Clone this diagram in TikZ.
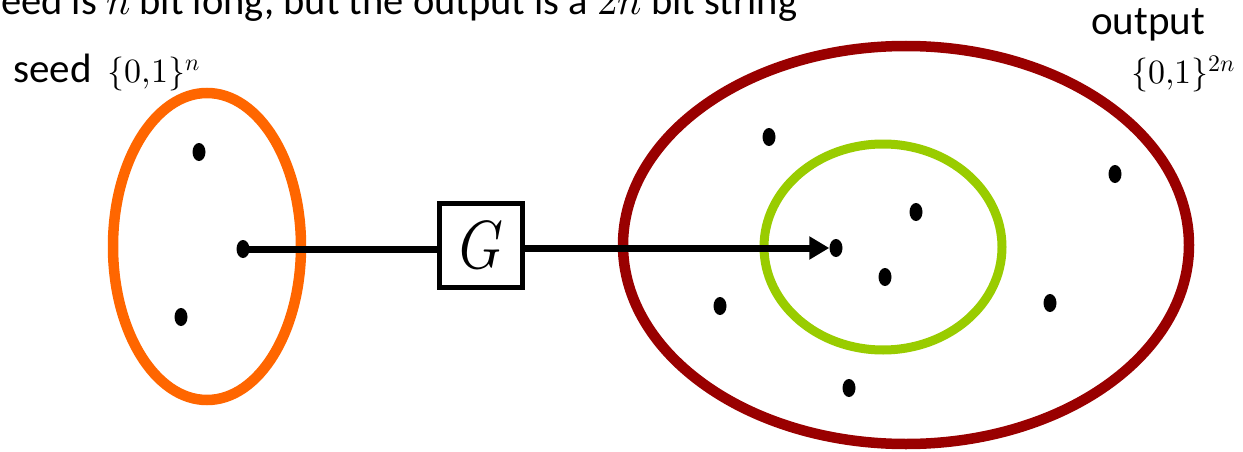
\documentclass[tikz,border=0pt]{standalone}
\usepackage{fontspec}
\usepackage{unicode-math}
\setmainfont{Carlito}
\setmathfont{Latin Modern Math}
\usetikzlibrary{arrows.meta,shapes.geometric}
\definecolor{seedorange}{RGB}{255,102,0}
\definecolor{outred}{RGB}{153,0,0}
\definecolor{imggreen}{RGB}{153,204,0}
% set notation in a slightly smaller size than the labels
\newcommand{\bitset}[1]{{\fontsize{34}{40}\selectfont$\{0{,}1\}^{#1}$}}
\tikzset{
  settext/.style={font=\fontsize{41}{49}\selectfont, inner sep=0pt},
  ring/.style={line width=10.5pt},
  pt/.style={fill=black, draw=none, ellipse, minimum width=13pt, minimum height=18pt, inner sep=0pt},
  genbox/.style={draw, line width=5pt, fill=white, minimum width=83pt, minimum height=84pt, inner sep=0pt},
  mapline/.style={line width=7pt},
  maparrow/.style={mapline, -{Triangle[length=20pt, width=22pt]}},
}
\begin{document}
\begin{tikzpicture}[x=1pt, y=-1pt]
\useasboundingbox (0,0) rectangle (1243,452);

% caption line across the top
\node[settext, font=\fontsize{40.5}{48}\selectfont, anchor=base west] (caption) at (1,15) {eed is $n$ bit long, but the output is a $2n$ bit string};

% the seed set
\draw[ring, seedorange] (207,246.5) ellipse [x radius=94, y radius=153.5];
\node[settext, anchor=base west] (seedlbl) at (13,83) {seed\hspace{16pt}\bitset{n}};

% the output set and the image of G inside it
\draw[ring, outred] (906,245) ellipse [x radius=283, y radius=199];
\draw[ring, imggreen, line width=9pt] (883,247) ellipse [x radius=119, y radius=103];
\node[settext, anchor=base west] (outlbl) at (1091,35) {output};
\node[settext, anchor=base west] (outset) at (1131,84) {\bitset{2n}};

% points
\node[pt] (s1) at (199,152) {};
\node[pt] (s2) at (181,317) {};
\node[pt] (s0) at (243,249) {};

\node[pt] (o1) at (769,137) {};
\node[pt] (o2) at (1115,174) {};
\node[pt] (o3) at (720,306) {};
\node[pt] (o4) at (1050,303) {};
\node[pt] (o5) at (849,388) {};

\node[pt] (g1) at (916,212) {};
\node[pt] (g2) at (885,277) {};
\node[pt] (t0) at (836,248) {};

% the generator
\node[genbox] (G) at (481,245) {\fontsize{68}{76}\selectfont\scalebox{0.82}[1]{$G$}};

\draw[mapline] (s0.center) -- (s0.center -| G.west);
\draw[maparrow] (G.east |- t0.center) -- (t0.west);
\end{tikzpicture}
\end{document}
